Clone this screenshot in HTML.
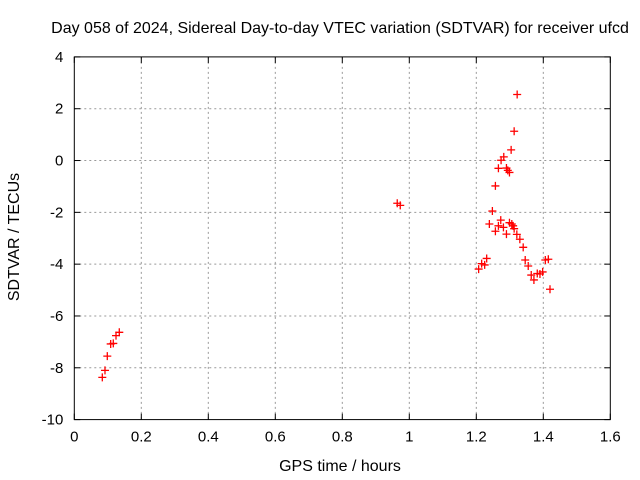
<!DOCTYPE html>
<html><head><meta charset="utf-8"><style>body{margin:0;background:#fff}svg{display:block;font-family:"Liberation Sans",sans-serif}</style></head>
<body>
<svg id="chart" width="640" height="480" xmlns="http://www.w3.org/2000/svg">
<text x="340" y="33" text-anchor="middle" font-size="16">Day 058 of 2024, Sidereal Day-to-day VTEC variation (SDTVAR) for receiver ufcd</text>
<text x="340" y="471" text-anchor="middle" font-size="16">GPS time / hours</text>
<text transform="translate(19,237) rotate(-90)" text-anchor="middle" font-size="16">SDTVAR / TECUs</text>
<g id="grid"></g>
<g id="ticks"></g>
<g id="points"></g>
<rect x="74.3" y="56.9" width="536" height="362.7" fill="none" stroke="#000" stroke-width="1"/>
</svg>
<script>
const xTicks=[0,0.2,0.4,0.6,0.8,1,1.2,1.4,1.6];
const xTickLabels=["0","0.2","0.4","0.6","0.8","1","1.2","1.4","1.6"];
const yTicks=[4,2,0,-2,-4,-6,-8,-10];
const yTickLabels=["4","2","0","-2","-4","-6","-8","-10"];
const xs=[0.0836,0.0916,0.0985,0.1086,0.1164,0.1245,0.1343,0.964,0.973,1.322,1.313,1.304,1.282,1.274,1.266,1.290,1.299,1.294,1.257,1.248,1.239,1.273,1.266,1.257,1.281,1.299,1.306,1.310,1.313,1.290,1.321,1.330,1.340,1.346,1.355,1.364,1.372,1.382,1.390,1.398,1.406,1.415,1.420,1.207,1.216,1.225,1.231];
const ys=[-8.37,-8.10,-7.55,-7.08,-7.06,-6.76,-6.63,-1.65,-1.73,2.55,1.13,0.41,0.14,0.01,-0.30,-0.29,-0.46,-0.38,-0.98,-1.95,-2.45,-2.30,-2.52,-2.73,-2.58,-2.40,-2.45,-2.52,-2.63,-2.84,-2.85,-3.04,-3.35,-3.84,-4.07,-4.42,-4.61,-4.36,-4.38,-4.30,-3.84,-3.81,-4.97,-4.19,-3.98,-4.03,-3.78];
const L=74.3,R=610.3,T=56.9,B=419.6;
const X=v=>L+(v-0)/1.6*(R-L);
const Y=v=>B-(v+10)/14*(B-T);
const NS="http://www.w3.org/2000/svg";
function mk(t,a,p){const e=document.createElementNS(NS,t);for(const k in a)e.setAttribute(k,a[k]);p.appendChild(e);return e;}
const g=document.getElementById('grid'),tk=document.getElementById('ticks'),pts=document.getElementById('points');
xTicks.forEach((v,i)=>{const x=X(v);
 if(i>0&&i<xTicks.length-1){const l=mk('line',{x1:x,x2:x,y1:T,y2:B,stroke:'#999','stroke-dasharray':'2,3'},g);}
 mk('line',{x1:x,x2:x,y1:B,y2:B-6,stroke:'#000'},tk);mk('line',{x1:x,x2:x,y1:T,y2:T+6,stroke:'#000'},tk);
 const t=mk('text',{x:x,y:B+22,'text-anchor':'middle','font-size':'15'},tk);t.textContent=xTickLabels[i];
 });
yTicks.forEach((v,i)=>{const y=Y(v);
 if(i>0&&i<yTicks.length-1){const l=mk('line',{x1:L,x2:R,y1:y,y2:y,stroke:'#999','stroke-dasharray':'2,3'},g);}
 mk('line',{x1:L,x2:L+6,y1:y,y2:y,stroke:'#000'},tk);mk('line',{x1:R,x2:R-6,y1:y,y2:y,stroke:'#000'},tk);
 const t=mk('text',{x:L-11,y:y+5,'text-anchor':'end','font-size':'15'},tk);t.textContent=yTickLabels[i];
 });
xs.forEach((v,i)=>{const x=X(v),y=Y(ys[i]);
 const p=mk('path',{d:`M${x-4},${y}H${x+4}M${x},${y-4}V${y+4}`,stroke:'#f00','stroke-width':'1.3',fill:'none'},pts);
 });
</script>
</body></html>
